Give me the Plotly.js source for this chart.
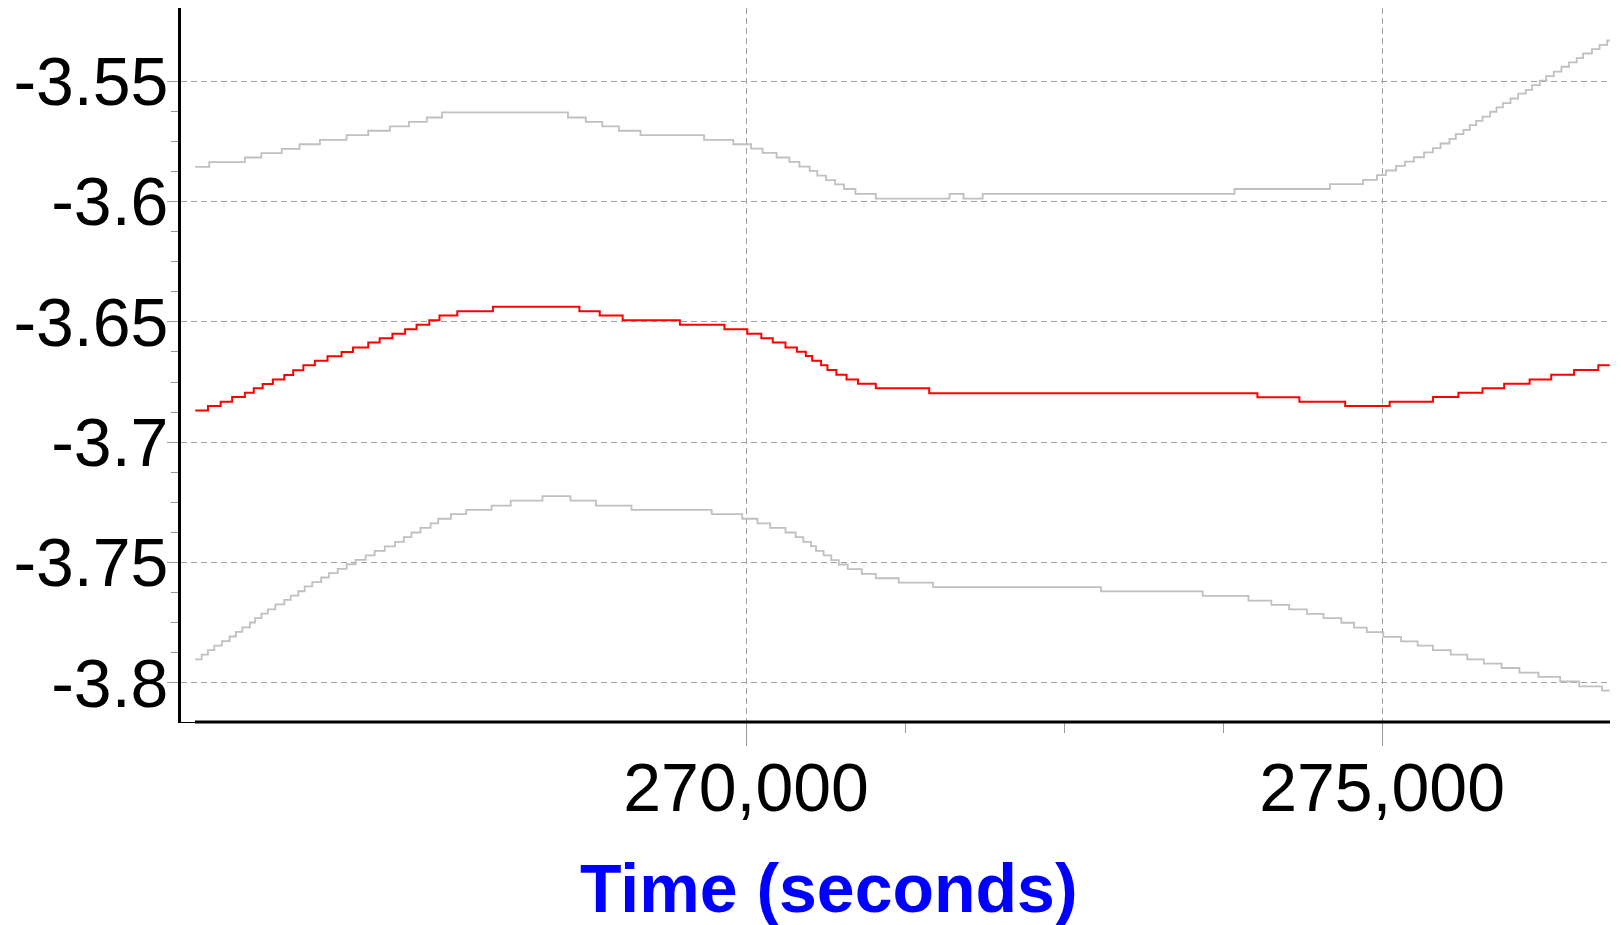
<!DOCTYPE html>
<html>
<head>
<meta charset="utf-8">
<script src="https://cdn.plot.ly/plotly-3.0.1.min.js"></script>
<style>html,body{margin:0;padding:0;background:#fff;}#chart{width:1621px;height:925px;}</style>
</head>
<body>
<div id="chart"></div>
<script>
// Upper bound series (gray)
const upperT = [265670,265780,266060,266190,266350,266490,266650,266860,267030,267200,267350,267490,267610,268600,268740,268870,269000,269170,269670,269900,270040,270130,270240,270340,270420,270500,270560,270630,270700,270770,270860,271020,271600,271710,271860,273840,274590,274850,274960,275030,275110,275180,275250,275330,275400,275460,275530,275580,275640,275690,275740,275790,275850,275900,275950,276010,276070,276130,276180,276240,276290,276350,276410,276470,276530,276580,276650,276710,276770,276790];
const upperV = [-3.5856,-3.5836,-3.5817,-3.5799,-3.5781,-3.5762,-3.5744,-3.5724,-3.5706,-3.5688,-3.5669,-3.5651,-3.5630,-3.5651,-3.5669,-3.5688,-3.5706,-3.5724,-3.5744,-3.5762,-3.5780,-3.5798,-3.5817,-3.5835,-3.5855,-3.5873,-3.5892,-3.5911,-3.5929,-3.5948,-3.5968,-3.5988,-3.5968,-3.5988,-3.5968,-3.5948,-3.5928,-3.5910,-3.5890,-3.5871,-3.5852,-3.5834,-3.5816,-3.5796,-3.5778,-3.5759,-3.5740,-3.5720,-3.5702,-3.5683,-3.5665,-3.5647,-3.5627,-3.5609,-3.5591,-3.5572,-3.5552,-3.5536,-3.5516,-3.5498,-3.5479,-3.5460,-3.5440,-3.5422,-3.5404,-3.5385,-3.5367,-3.5349,-3.5331,-3.5331];

// Main series (red)
const redT = [265670,265770,265870,265960,266060,266130,266200,266280,266370,266440,266520,266610,266710,266820,266910,267030,267120,267220,267320,267410,267510,267590,267730,268010,268690,268850,269030,269480,269830,270010,270120,270210,270310,270400,270470,270520,270590,270640,270710,270790,270880,271020,271440,274020,274350,274710,275060,275400,275600,275790,275960,276160,276330,276510,276700,276790];
const redV = [-3.6868,-3.6850,-3.6832,-3.6812,-3.6794,-3.6776,-3.6758,-3.6739,-3.6721,-3.6701,-3.6680,-3.6661,-3.6643,-3.6625,-3.6606,-3.6586,-3.6568,-3.6549,-3.6531,-3.6512,-3.6493,-3.6474,-3.6456,-3.6437,-3.6456,-3.6474,-3.6493,-3.6512,-3.6531,-3.6549,-3.6568,-3.6586,-3.6606,-3.6624,-3.6642,-3.6661,-3.6680,-3.6700,-3.6720,-3.6739,-3.6757,-3.6776,-3.6796,-3.6813,-3.6832,-3.6850,-3.6832,-3.6812,-3.6794,-3.6776,-3.6757,-3.6739,-3.6720,-3.6700,-3.6680,-3.6680];

// Lower bound series (gray)
const lowerT = [265670,265720,265770,265820,265880,265940,265990,266040,266100,266140,266190,266240,266300,266370,266420,266480,266530,266590,266660,266720,266790,266860,266930,267010,267080,267160,267240,267310,267370,267440,267520,267580,267680,267800,268000,268150,268400,268620,268820,269100,269730,269970,270090,270190,270310,270390,270450,270510,270550,270610,270670,270730,270800,270910,271020,271200,271470,272790,273590,273950,274130,274270,274410,274540,274680,274780,274880,275010,275150,275280,275400,275540,275670,275800,275940,276080,276230,276400,276550,276730,276790];
const lowerV = [-3.7902,-3.7882,-3.7864,-3.7845,-3.7826,-3.7807,-3.7788,-3.7769,-3.7749,-3.7731,-3.7712,-3.7694,-3.7674,-3.7655,-3.7637,-3.7619,-3.7599,-3.7581,-3.7562,-3.7544,-3.7526,-3.7507,-3.7489,-3.7470,-3.7451,-3.7433,-3.7414,-3.7394,-3.7375,-3.7356,-3.7337,-3.7318,-3.7299,-3.7281,-3.7263,-3.7243,-3.7224,-3.7243,-3.7263,-3.7281,-3.7299,-3.7318,-3.7337,-3.7356,-3.7375,-3.7394,-3.7414,-3.7432,-3.7451,-3.7470,-3.7490,-3.7508,-3.7527,-3.7547,-3.7565,-3.7583,-3.7602,-3.7620,-3.7638,-3.7658,-3.7676,-3.7694,-3.7713,-3.7731,-3.7750,-3.7770,-3.7789,-3.7809,-3.7827,-3.7845,-3.7864,-3.7882,-3.7902,-3.7920,-3.7938,-3.7957,-3.7975,-3.7994,-3.8014,-3.8032,-3.8032];

// Axis ticks
const xTickVals = [270000, 275000];
const xTickText = ['270,000', '275,000'];
const xMinorVals = [271250, 272500, 273750];
const yTickVals = [-3.55, -3.6, -3.65, -3.7, -3.75, -3.8];
const yTickText = ['-3.55', '-3.6', '-3.65', '-3.7', '-3.75', '-3.8'];
const yMinorVals = [-3.5625, -3.575, -3.5875, -3.6125, -3.625, -3.6375, -3.6625, -3.675, -3.6875, -3.7125, -3.725, -3.7375, -3.7625, -3.775, -3.7875];
const xTitle = 'Time (seconds)';

const FONT = 'Liberation Sans, Arial, sans-serif';
const GRAY = '#c0c0c0';

const traces = [
  {x: upperT, y: upperV, type: 'scatter', mode: 'lines', line: {shape: 'hv', color: GRAY, width: 1.8}, hoverinfo: 'skip'},
  {x: lowerT, y: lowerV, type: 'scatter', mode: 'lines', line: {shape: 'hv', color: GRAY, width: 1.8}, hoverinfo: 'skip'},
  {x: redT, y: redV, type: 'scatter', mode: 'lines', line: {shape: 'hv', color: '#ff0000', width: 2}, hoverinfo: 'skip'}
];

const layout = {
  width: 1621, height: 925,
  margin: {l: 181, r: 11, t: 8, b: 203, pad: 0},
  paper_bgcolor: '#ffffff', plot_bgcolor: '#ffffff',
  showlegend: false,
  font: {family: FONT, color: '#000'},
  xaxis: {
    range: [265558, 276792],
    tickmode: 'array', tickvals: xTickVals, ticktext: xTickText,
    ticks: 'outside', ticklen: 23, tickwidth: 1, tickcolor: '#9a9a9a',
    tickfont: {family: FONT, size: 68, color: '#000'},
    ticklabelstandoff: -17,
    showgrid: true, gridcolor: '#a0a0a0', gridwidth: 1, griddash: '6px,4px',
    zeroline: false, showline: true, linecolor: '#000', linewidth: 1,
    automargin: false,
    minor: {tickmode: 'array', tickvals: xMinorVals, ticks: 'outside', ticklen: 10, tickwidth: 1, tickcolor: '#9a9a9a', showgrid: false}
  },
  yaxis: {
    range: [-3.81623, -3.51960],
    tickmode: 'array', tickvals: yTickVals, ticktext: yTickText,
    ticks: 'outside', ticklen: 11, tickwidth: 1, tickcolor: '#9a9a9a',
    tickfont: {family: FONT, size: 68, color: '#000'},
    ticklabelstandoff: -15,
    showgrid: true, gridcolor: '#a0a0a0', gridwidth: 1, griddash: '6px,4px',
    zeroline: false, showline: true, linecolor: '#000', linewidth: 3,
    automargin: false,
    minor: {tickmode: 'array', tickvals: yMinorVals, ticks: 'outside', ticklen: 7, tickwidth: 1, tickcolor: '#9a9a9a', showgrid: false}
  },
  annotations: [
    {text: xTitle, xref: 'paper', yref: 'paper', x: 0.4535, y: -0.2318, xanchor: 'center', yanchor: 'middle',
     showarrow: false, font: {family: FONT, size: 68, color: '#0000ff', weight: 'bold'}}
  ],
  shapes: [
    {type: 'line', xref: 'paper', yref: 'paper', x0: 0.0098, x1: 1, y0: 0, y1: 0, line: {color: '#000', width: 3}}
  ]
};

Plotly.newPlot('chart', traces, layout, {staticPlot: true, displayModeBar: false});
</script>
</body>
</html>
